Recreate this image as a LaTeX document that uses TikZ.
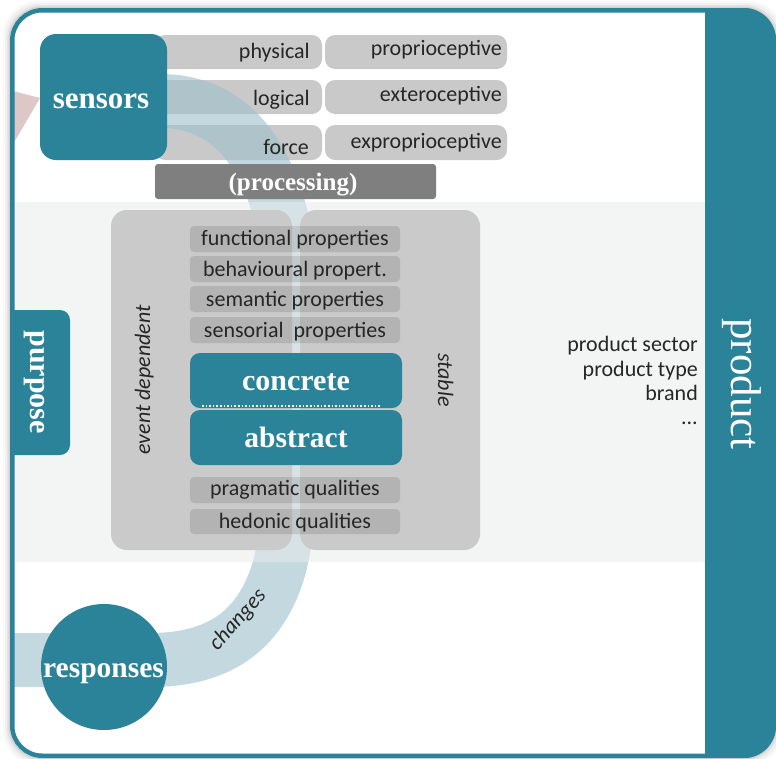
\documentclass[tikz,border=0pt]{standalone}
\usepackage{fontspec}
\setmainfont{Liberation Serif}
\setsansfont{Carlito}
\definecolor{tealmain}{HTML}{2B8399}
\definecolor{barlight}{HTML}{C9C9C9}
\definecolor{panelgrey}{HTML}{CACACA}
\definecolor{procgrey}{HTML}{7F7F7F}
\definecolor{bandcol}{HTML}{9EC1CB}
\definecolor{palecol}{HTML}{E8EBEB}
\definecolor{pinkhead}{HTML}{DDC7C7}
\definecolor{inktext}{HTML}{262626}
\begin{document}
\begin{tikzpicture}[x=1pt,y=-1pt,
  every node/.style={inner sep=0pt},
  lab/.style={font=\sffamily\fontsize{22}{24}\selectfont, text=inktext},
  ilab/.style={font=\sffamily\itshape\fontsize{22}{24}\selectfont, text=inktext},
  head/.style={font=\bfseries\fontsize{#1}{#1}\selectfont, text=white},
  plainhead/.style={font=\fontsize{#1}{#1}\selectfont, text=white},
  sensorbar/.style={fill=barlight, rounded corners=10pt},
  propbar/.style={fill=black, fill opacity=0.11, rounded corners=4pt},
  panel/.style={fill=panelgrey, rounded corners=16pt},
  tealbox/.style={fill=tealmain, rounded corners=#1},
]
\useasboundingbox (0,0) rectangle (776,758);
\fill[white] (0,0) rectangle (776,758);

% soft shadow around the frame
\foreach \d/\o in {7/0.025,5/0.035,3/0.05,1.5/0.07}{
  \fill[black, opacity=\o, rounded corners=34pt] (10-\d,8-\d) rectangle (776+\d,758+\d);
}
\fill[white, rounded corners=32pt] (10,8) rectangle (776,758);

\begin{scope}
\clip[rounded corners=32pt] (10,8) rectangle (776,758);

% sensor categories
\fill[sensorbar] (155,35) rectangle (322,69);
\fill[sensorbar] (155,80) rectangle (322,114);
\fill[sensorbar] (155,125) rectangle (322,160);
\fill[sensorbar] (325,35) rectangle (507,69);
\fill[sensorbar] (325,80) rectangle (507,114);
\fill[sensorbar] (325,125) rectangle (507,160);

% the loop from sensors to responses
\draw[bandcol, line width=54pt, opacity=0.6]
  (120,101) -- (160,101) .. controls (270,101) and (300,230) .. (295,380)
  .. controls (295,470) and (292,510) .. (280,565)
  .. controls (262,630) and (220,660) .. (150,660) -- (0,660);

% middle layer
\fill[palecol, opacity=0.5] (5,202) rectangle (705,562);

% arrow head entering the sensors
\fill[pinkhead] (5,89) -- (40,98) -- (5,158) -- cycle;

\node[tealbox=16pt, minimum width=127pt, minimum height=126pt] (sensors) at (103.5,97) {};
\node[head=31, anchor=base] (sensorslbl) at (101,108) {sensors};

\node[lab, anchor=base east] (physical) at (310,58) {physical};
\node[lab, anchor=base east] (logical) at (310,105) {logical};
\node[lab, anchor=base east] (force) at (309,154) {force};
\node[lab, anchor=base east] (proprio) at (502,55) {proprioceptive};
\node[lab, anchor=base east] (extero) at (502,101) {exteroceptive};
\node[lab, anchor=base east] (expropr) at (502,148) {exproprioceptive};

\node[fill=procgrey, rounded corners=3pt, minimum width=281pt, minimum height=35pt] (processing) at (295.5,181.5) {};
\node[head=25, anchor=base] (processinglbl) at (293,190.5) {(processing)};

% properties panels
\fill[panel] (111,210) rectangle (292,550);
\fill[panel] (300,210) rectangle (480,550);

\fill[propbar] (190,226) rectangle (400,252);
\fill[propbar] (190,256) rectangle (400,282);
\fill[propbar] (190,286) rectangle (400,312);
\fill[propbar] (190,317) rectangle (400,343);
\fill[propbar] (190,477) rectangle (400,503);
\fill[propbar] (190,509) rectangle (400,534);

\node[lab, anchor=base] (functional) at (295,245) {functional properties};
\node[lab, anchor=base] (behavioural) at (295,276) {behavioural propert.};
\node[lab, anchor=base] (semantic) at (295,306) {semantic properties};
\node[lab, anchor=base] (sensorial) at (295,337) {sensorial~~properties};
\node[lab, anchor=base] (pragmatic) at (295,495) {pragmatic qualities};
\node[lab, anchor=base] (hedonic) at (295,528) {hedonic qualities};

\node[tealbox=10pt, minimum width=212pt, minimum height=55pt] (concrete) at (296,380.5) {};
\node[tealbox=10pt, minimum width=212pt, minimum height=55pt] (abstract) at (296,437.5) {};
\draw[white, line width=1.6pt, dotted] (202,406) -- (380,406);
\node[head=30, anchor=base] (concretelbl) at (296,390) {concrete};
\node[head=29.5, anchor=base] (abstractlbl) at (296,447) {abstract};

\node[ilab, rotate=90, anchor=base] (eventdep) at (150,380) {event dependent};
\node[ilab, rotate=-90, anchor=base] (stable) at (438,380) {stable};

% purpose tab on the left edge
\node[tealbox=10pt, minimum width=90pt, minimum height=145pt] (purpose) at (25,382.5) {};
\node[head=30, rotate=-90, anchor=base] (purposelbl) at (30,382) {purpose};

% product details
\node[lab, anchor=base east] (sector) at (698,351) {product sector};
\node[lab, anchor=base east] (ptype) at (698,376) {product type};
\node[lab, anchor=base east] (brand) at (698,400) {brand};
\node[lab, anchor=base east] (more) at (698,424) {...};

% responses
\node[circle, fill=tealmain, minimum size=126pt] (responses) at (104,667) {};
\node[head=29.5, anchor=base] (responseslbl) at (103.5,677) {responses};
\node[ilab, rotate=48] (changes) at (238,620) {changes};

% product band
\fill[tealmain] (705,0) rectangle (776,758);
\end{scope}

\node[plainhead=43, rotate=-90, anchor=base] (product) at (731,384) {product};

% frame
\draw[tealmain, line width=4.5pt, rounded corners=30pt] (12.25,10.25) rectangle (773.75,755.75);
\end{tikzpicture}
\end{document}
